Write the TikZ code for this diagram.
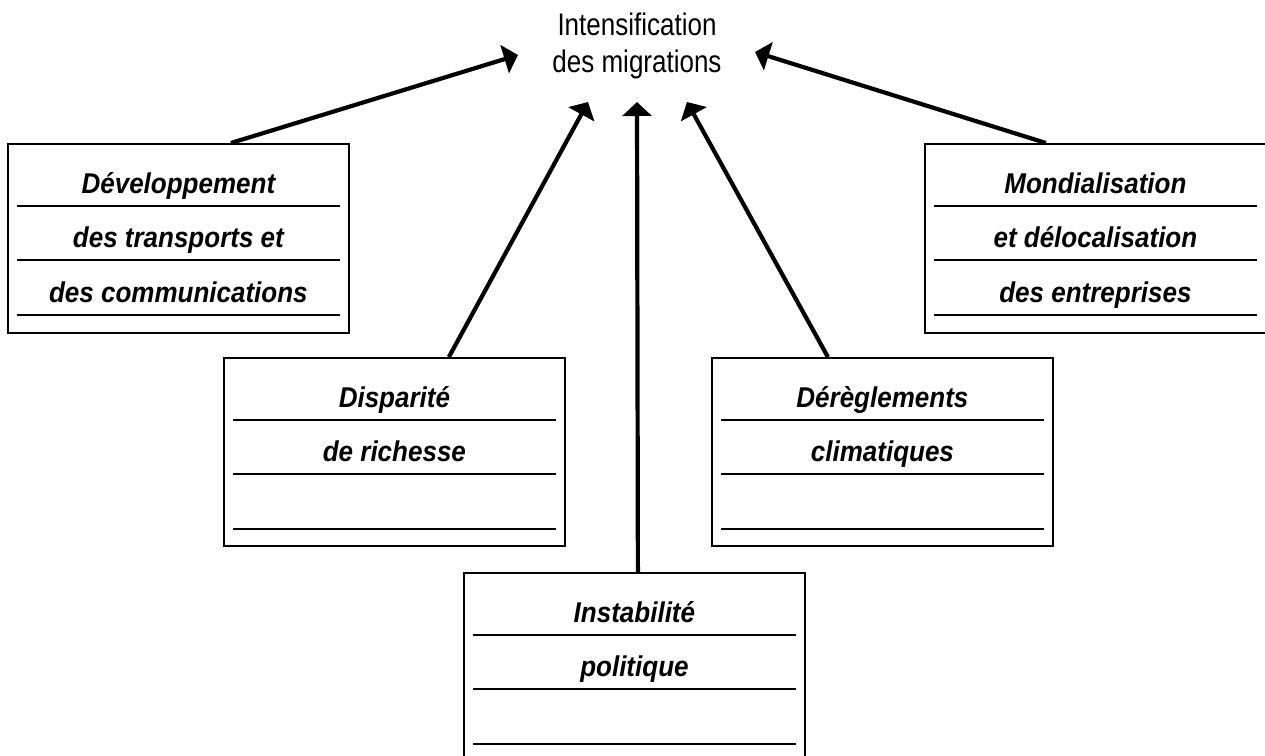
\documentclass[tikz,border=0pt]{standalone}
\usepackage{fontspec}
\setmainfont{Liberation Sans}
\usetikzlibrary{arrows.meta}
\begin{document}
\begin{tikzpicture}[x=1pt,y=-1pt,
        box/.style={draw, line width=1.8pt, anchor=north west, inner sep=0pt,
          minimum width=341pt},
        rule/.style={line width=2.2pt},
        boxlabel/.style={font=\fontsize{26}{31}\selectfont\bfseries\itshape, anchor=base,
          yscale=1.1, transform shape},
        push/.style={line width=4.2pt, -{Triangle[length=14pt,width=29pt]}}]
    \useasboundingbox (0,0) rectangle (1265,755);
    \node[font=\fontsize{26}{31}\selectfont, align=center, yscale=1.2, transform shape]
      (migr) at (637,46) {Intensification\\des migrations};
    % the five causes
    \foreach \nm/\x/\y/\h/\la/\lb/\lc in {
        transports/7/143/189/Développement/des transports et/des communications,
        richesse/223/357/188/Disparité/de richesse/{},
        politique/463/572/190/Instabilité/politique/{},
        climat/711/357/188/Dérèglements/climatiques/{},
        mondial/924/143/189/Mondialisation/et délocalisation/des entreprises} {
      \node[box, minimum height=\h pt] (\nm) at (\x,\y) {};
      \foreach \d in {63,117,172}
        \draw[rule] ([shift={(10,\d)}]\nm.north west) -- ([shift={(-10,\d)}]\nm.north east);
      \node[boxlabel] (\nm-a) at ([yshift=-50pt]\nm.north) {\la};
      \node[boxlabel] (\nm-b) at ([yshift=-104pt]\nm.north) {\lb};
      \node[boxlabel] (\nm-c) at ([yshift=-159pt]\nm.north) {\lc};
    }
    \coordinate (in1) at (518,55);
    \coordinate (in2) at (588,102);
    \coordinate (in3) at (637,102);
    \coordinate (in4) at (687,102);
    \coordinate (in5) at (755,52);
    \draw[push] ([xshift=52.5pt]transports.north) -- (in1);
    \draw[push] ([xshift=54.5pt]richesse.north) -- (in2);
    \draw[push] ([xshift=3.5pt]politique.north) -- (in3);
    \draw[push] ([xshift=-54.5pt]climat.north) -- (in4);
    \draw[push] ([xshift=-49.5pt]mondial.north) -- (in5);
\end{tikzpicture}
\end{document}
